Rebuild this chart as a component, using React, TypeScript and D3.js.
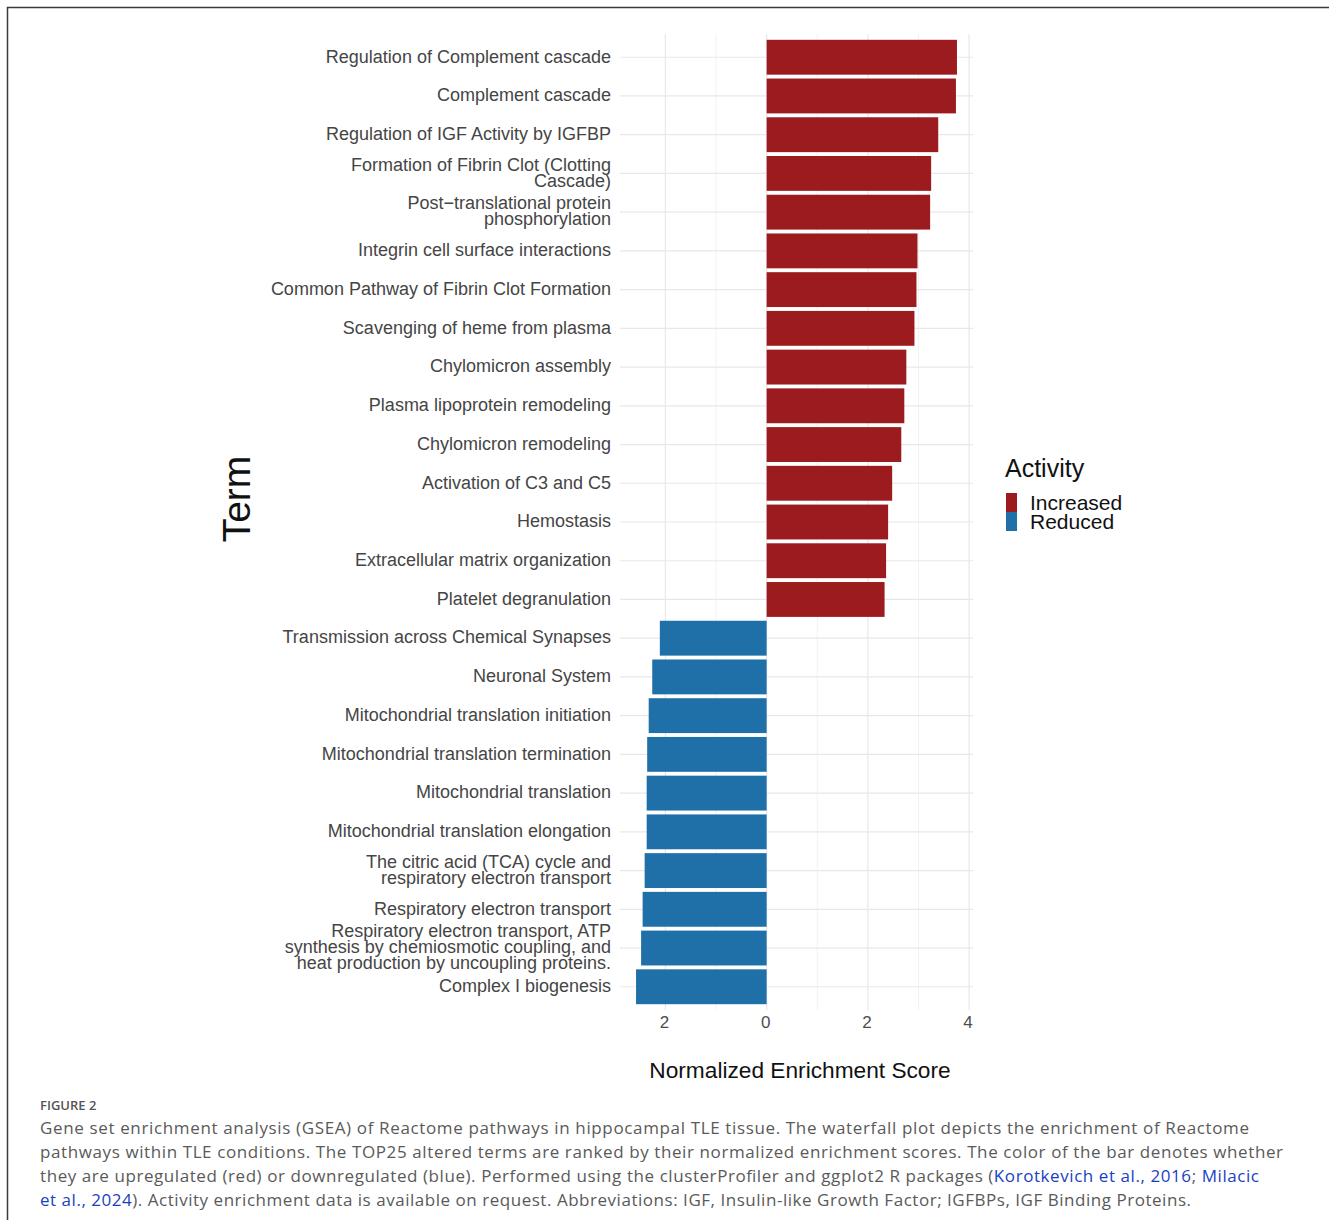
import React from "react";
import * as d3 from "d3";

const terms: string[] = [
  "Regulation of Complement cascade",
  "Complement cascade",
  "Regulation of IGF Activity by IGFBP",
  "Formation of Fibrin Clot (Clotting\nCascade)",
  "Post\u2212translational protein\nphosphorylation",
  "Integrin cell surface interactions",
  "Common Pathway of Fibrin Clot Formation",
  "Scavenging of heme from plasma",
  "Chylomicron assembly",
  "Plasma lipoprotein remodeling",
  "Chylomicron remodeling",
  "Activation of C3 and C5",
  "Hemostasis",
  "Extracellular matrix organization",
  "Platelet degranulation",
  "Transmission across Chemical Synapses",
  "Neuronal System",
  "Mitochondrial translation initiation",
  "Mitochondrial translation termination",
  "Mitochondrial translation",
  "Mitochondrial translation elongation",
  "The citric acid (TCA) cycle and\nrespiratory electron transport",
  "Respiratory electron transport",
  "Respiratory electron transport, ATP\nsynthesis by chemiosmotic coupling, and\nheat production by uncoupling proteins.",
  "Complex I biogenesis",
];

const nes: number[] = [
  3.76, 3.74, 3.39, 3.25, 3.23, 2.98, 2.96, 2.92, 2.76, 2.72, 2.66, 2.48, 2.4, 2.36, 2.33,
  -2.11, -2.26, -2.33, -2.36, -2.37, -2.37, -2.41, -2.45, -2.48, -2.58,
];

const activity: string[] = nes.map((v) => (v > 0 ? "Increased" : "Reduced"));

const activityLevels: string[] = ["Increased", "Reduced"];
const activityColors: string[] = ["#9b1b1e", "#1f6fa8"];

const xTicks: number[] = [-2, 0, 2, 4];
const xMinorTicks: number[] = [-1, 1, 3];

const captionLabel = "FIGURE 2";
const captionLines: { text: string; link?: boolean }[][] = [
  [{ text: "Gene set enrichment analysis (GSEA) of Reactome pathways in hippocampal TLE tissue. The waterfall plot depicts the enrichment of Reactome" }],
  [{ text: "pathways within TLE conditions. The TOP25 altered terms are ranked by their normalized enrichment scores. The color of the bar denotes whether" }],
  [
    { text: "they are upregulated (red) or downregulated (blue). Performed using the clusterProfiler and ggplot2 R packages (" },
    { text: "Korotkevich et al., 2016", link: true },
    { text: "; " },
    { text: "Milacic", link: true },
  ],
  [
    { text: "et al., 2024", link: true },
    { text: "). Activity enrichment data is available on request. Abbreviations: IGF, Insulin-like Growth Factor; IGFBPs, IGF Binding Proteins." },
  ],
];
const captionWidths: number[] = [1209, 1243, 1219, 1151];

export default function App() {
  const W = 1329;
  const H = 1220;
  const panel = { left: 620, right: 973, top: 34, bottom: 1010 };

  const lo = d3.min(nes) as number;
  const hi = d3.max(nes) as number;
  const pad = (hi - lo) * 0.05;
  const x = d3.scaleLinear().domain([lo - pad, hi + pad]).range([panel.left, panel.right]);
  const y = d3
    .scaleBand<string>()
    .domain(terms)
    .range([panel.top, panel.bottom])
    .paddingInner(0.1)
    .paddingOuter(0.15);
  const color = d3.scaleOrdinal<string, string>().domain(activityLevels).range(activityColors);

  const font = "'Liberation Sans', Arial, Helvetica, sans-serif";
  const capFont = "'Open Sans', Lato, sans-serif";

  return (
    <svg
      width={W}
      height={H}
      style={{ position: "absolute", left: 0, top: 0, background: "#fff" }}
      fontFamily={font}
    >
      <rect x={0} y={0} width={W} height={H} fill="#fff" />
      {/* frame */}
      <path d={`M7.5,${H + 5} L7.5,7.5 L${W + 5},7.5`} fill="none" stroke="#3a3a3a" strokeWidth={1.5} />

      {/* grid */}
      {xMinorTicks.map((t) => (
        <line key={"mn" + t} x1={x(t)} x2={x(t)} y1={panel.top} y2={panel.bottom} stroke="#f2f2f2" strokeWidth={1} />
      ))}
      {terms.map((t) => (
        <line
          key={"hg" + t}
          x1={panel.left}
          x2={panel.right}
          y1={(y(t) as number) + y.bandwidth() / 2}
          y2={(y(t) as number) + y.bandwidth() / 2}
          stroke="#e8e8e8"
          strokeWidth={1.2}
        />
      ))}
      {xTicks.map((t) => (
        <line key={"mj" + t} x1={x(t)} x2={x(t)} y1={panel.top} y2={panel.bottom} stroke="#e8e8e8" strokeWidth={1.2} />
      ))}

      {/* bars */}
      {terms.map((t, i) => {
        const v = nes[i];
        const x0 = x(Math.min(0, v));
        const x1 = x(Math.max(0, v));
        return (
          <rect
            key={"b" + t}
            x={x0}
            y={y(t) as number}
            width={x1 - x0}
            height={y.bandwidth()}
            fill={color(activity[i])}
          />
        );
      })}

      {/* y labels */}
      {terms.map((t) => {
        const lines = t.split("\n");
        const cy = (y(t) as number) + y.bandwidth() / 2 - 1;
        const lh = 16;
        const first = cy - ((lines.length - 1) * lh) / 2;
        return (
          <text
            key={"yl" + t}
            x={611}
            textAnchor="end"
            fontSize={18}
            fill="#454545"
          >
            {lines.map((l, j) => (
              <tspan key={j} x={611} y={first + j * lh} dy="0.35em">
                {l}
              </tspan>
            ))}
          </text>
        );
      })}

      {/* x tick labels */}
      {xTicks.map((t) => (
        <text key={"xt" + t} x={x(t) - 1} y={1022} dy="0.35em" textAnchor="middle" fontSize={17} fill="#4d4d4d">
          {d3.format("d")(Math.abs(t))}
        </text>
      ))}

      {/* axis titles */}
      <text x={800} y={1070} dy="0.35em" textAnchor="middle" fontSize={22.7} fill="#111">
        Normalized Enrichment Score
      </text>
      <text
        transform={`translate(236,499) rotate(-90)`}
        textAnchor="middle"
        dy="0.35em"
        fontSize={39}
        fill="#111"
      >
        Term
      </text>

      {/* legend */}
      <text x={1005} y={468} dy="0.35em" fontSize={25} fill="#111">
        Activity
      </text>
      {activityLevels.map((a, i) => (
        <g key={"lg" + a}>
          <rect x={1006} y={493 + i * 19} width={11} height={19} fill={color(a)} />
          <text x={1030} y={503 + i * 19} dy="0.35em" fontSize={21} fill="#111">
            {a}
          </text>
        </g>
      ))}

      {/* caption */}
      <text x={40} y={1105} dy="0.35em" fontSize={13} fill="#555" fontFamily={capFont} fontWeight={600}>
        {captionLabel}
      </text>
      {captionLines.map((parts, i) => (
        <text
          key={"cap" + i}
          x={40}
          y={1128 + i * 24}
          dy="0.35em"
          fontSize={17}
          fill="#5a5a5a"
          fontFamily={capFont}
          textLength={captionWidths[i]}
          lengthAdjust="spacing"
        >
          {parts.map((p, j) => (
            <tspan key={j} fill={p.link ? "#1a3fbf" : "#5a5a5a"}>
              {p.text}
            </tspan>
          ))}
        </text>
      ))}
    </svg>
  );
}
